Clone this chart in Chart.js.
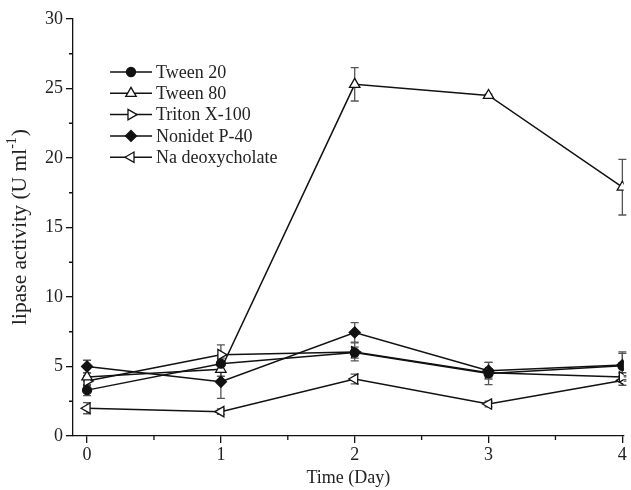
<!DOCTYPE html>
<html>
<head>
<meta charset="utf-8">
<script src="https://cdn.jsdelivr.net/npm/chart.js@4.4.0/dist/chart.umd.min.js"></script>
<style>
  body { margin: 0; background: #fff; }
  #wrap { width: 631px; height: 490px; }
</style>
</head>
<body>
<div id="wrap"><canvas id="lipase" width="631" height="490"></canvas></div>
<script>
// days on x axis
const days = [0, 1, 2, 3, 4];
const xTicks = [0, 1, 2, 3, 4];
const yTicks = [0, 5, 10, 15, 20, 25, 30];

const labels = ['Tween 20', 'Tween 80', 'Triton X-100', 'Nonidet P-40', 'Na deoxycholate'];

// lipase activity (U ml-1)
const tween20 = [3.3, 5.2, 6.0, 4.5, 5.05];
const tween80 = [4.25, 4.8, 25.3, 24.5, 17.9];
const triton = [3.95, 5.85, 6.05, 4.55, 4.25];
const nonidet = [5.0, 3.9, 7.45, 4.7, 5.1];
const naDeoxy = [2.0, 1.75, 4.1, 2.3, 4.0];

// +/- error
const tween20Err = [0.4, 0.4, 0.4, 0.8, 1.0];
const tween80Err = [0.3, 0.5, 1.2, 0.1, 2.0];
const tritonErr = [0.3, 0.7, 0.65, 0.3, 0.3];
const nonidetErr = [0.45, 1.2, 0.7, 0.6, 0.85];
const naDeoxyErr = [0.4, 0.2, 0.35, 0.2, 0.35];

const FONT = 'Liberation Serif';
const FS = 18;
const TITLE_FS = 21.5;

function series(label, values, errs, style, rot, filled, radius) {
    return {
        label: label,
        data: days.map((d, i) => ({ x: d, y: values[i] })),
        errs: errs,
        borderColor: '#111',
        borderWidth: 1.5,
        pointStyle: style,
        pointRotation: rot,
        pointRadius: radius,
        pointBorderWidth: 1.3,
        pointBorderColor: '#111',
        pointBackgroundColor: filled ? '#111' : '#fff',
        tension: 0
    };
}

// error bars drawn from the scales
const errorBars = {
    id: 'errorBars',
    beforeDatasetsDraw(chart) {
        const ctx = chart.ctx, xs = chart.scales.x, ys = chart.scales.y;
        ctx.save();
        ctx.strokeStyle = '#555';
        ctx.lineWidth = 1.3;
        chart.data.datasets.forEach(ds => {
            ds.data.forEach((p, i) => {
                const e = ds.errs[i];
                const px = xs.getPixelForValue(p.x);
                const top = ys.getPixelForValue(p.y + e);
                const bot = ys.getPixelForValue(p.y - e);
                ctx.beginPath();
                ctx.moveTo(px, top); ctx.lineTo(px, bot);
                ctx.moveTo(px - 4, top); ctx.lineTo(px + 4, top);
                ctx.moveTo(px - 4, bot); ctx.lineTo(px + 4, bot);
                ctx.stroke();
            });
        });
        ctx.restore();
    }
};

// minor ticks, y title and legend
const extras = {
    id: 'extras',
    afterDraw(chart) {
        const ctx = chart.ctx, xs = chart.scales.x, ys = chart.scales.y;
        const a = chart.chartArea;
        ctx.save();
        ctx.strokeStyle = '#111';
        ctx.lineWidth = 1.3;
        ctx.beginPath();
        for (let i = 0; i < xTicks.length - 1; i++) {
            const px = xs.getPixelForValue((xTicks[i] + xTicks[i + 1]) / 2);
            ctx.moveTo(px, a.bottom); ctx.lineTo(px, a.bottom + 4);
        }
        for (let i = 0; i < yTicks.length - 1; i++) {
            const py = ys.getPixelForValue((yTicks[i] + yTicks[i + 1]) / 2);
            ctx.moveTo(a.left, py); ctx.lineTo(a.left - 4, py);
        }
        ctx.stroke();

        // y title with superscript
        ctx.fillStyle = '#222';
        ctx.translate(20, (a.top + a.bottom) / 2);
        ctx.rotate(-Math.PI / 2);
        ctx.textBaseline = 'middle';
        const main = 'lipase activity (U ml', sup = '-1', end = ')';
        ctx.font = TITLE_FS + 'px ' + FONT;
        const w1 = ctx.measureText(main).width;
        const w3 = ctx.measureText(end).width;
        ctx.font = '14px ' + FONT;
        const w2 = ctx.measureText(sup).width;
        let x0 = -(w1 + w2 + w3) / 2;
        ctx.font = TITLE_FS + 'px ' + FONT;
        ctx.textAlign = 'left';
        ctx.fillText(main, x0, 0);
        ctx.font = '14px ' + FONT;
        ctx.fillText(sup, x0 + w1, -8);
        ctx.font = TITLE_FS + 'px ' + FONT;
        ctx.fillText(end, x0 + w1 + w2 + 1, 0);
        ctx.restore();

        // legend
        ctx.save();
        chart.data.datasets.forEach((ds, i) => {
            const y = 72 + i * 21.3;
            ctx.strokeStyle = '#111';
            ctx.lineWidth = 1.5;
            ctx.beginPath();
            ctx.moveTo(110, y); ctx.lineTo(152, y);
            ctx.stroke();
            ctx.fillStyle = ds.pointBackgroundColor;
            ctx.lineWidth = 1.3;
            Chart.helpers.drawPoint(ctx, {
                pointStyle: ds.pointStyle,
                rotation: ds.pointRotation,
                radius: ds.pointRadius,
                borderWidth: 1.3
            }, 131, y);
            ctx.fillStyle = '#222';
            ctx.font = FS + 'px ' + FONT;
            ctx.textBaseline = 'middle';
            ctx.textAlign = 'left';
            ctx.fillText(ds.label, 156, y + 1);
        });
        ctx.restore();
    }
};

const ctx = document.getElementById('lipase').getContext('2d');
new Chart(ctx, {
    type: 'line',
    data: {
        datasets: [
            series(labels[0], tween20, tween20Err, 'circle', 0, true, 4.5),
            series(labels[1], tween80, tween80Err, 'triangle', 0, false, 6),
            series(labels[2], triton, tritonErr, 'triangle', 90, false, 6),
            series(labels[3], nonidet, nonidetErr, 'rectRot', 0, true, 5.5),
            series(labels[4], naDeoxy, naDeoxyErr, 'triangle', -90, false, 6)
        ]
    },
    options: {
        responsive: false,
        animation: false,
        layout: { padding: { top: 19, right: 1, left: 0, bottom: 0 } },
        plugins: { legend: { display: false }, tooltip: { enabled: false } },
        scales: {
            x: {
                type: 'linear',
                min: -0.105,
                max: 4.01,
                afterBuildTicks: s => { s.ticks = xTicks.map(v => ({ value: v })); },
                afterFit: s => { s.height = 54; },
                grid: { drawOnChartArea: false, tickLength: 7, color: '#111', lineWidth: 1.3 },
                border: { color: '#111', width: 1.3 },
                ticks: { color: '#222', font: { family: FONT, size: FS }, padding: 1, maxRotation: 0 },
                title: { display: true, text: 'Time (Day)', color: '#222', font: { family: FONT, size: FS }, padding: { top: 0, bottom: 1 } }
            },
            y: {
                min: 0,
                max: 30,
                afterBuildTicks: s => { s.ticks = yTicks.map(v => ({ value: v })); },
                afterFit: s => { s.width = 73; },
                grid: { drawOnChartArea: false, tickLength: 7, color: '#111', lineWidth: 1.3 },
                border: { color: '#111', width: 1.3 },
                ticks: { color: '#222', font: { family: FONT, size: FS }, padding: 3 }
            }
        }
    },
    plugins: [errorBars, extras]
});
</script>
</body>
</html>
